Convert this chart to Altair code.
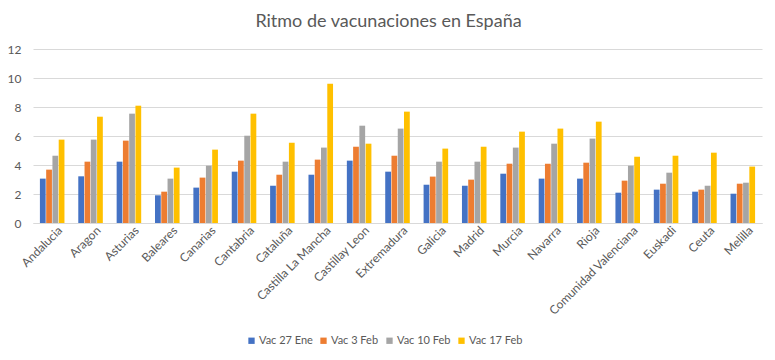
import altair as alt
import pandas as pd

regions = ["Andalucia", "Aragon", "Asturias", "Baleares", "Canarias", "Cantabria",
           "Cataluña", "Castilla La Mancha", "Castillay Leon", "Extremadura", "Galicia",
           "Madrid", "Murcia", "Navarra", "Rioja", "Comunidad Valenciana", "Euskadi",
           "Ceuta", "Melilla"]
series = ["Vac 27 Ene", "Vac 3 Feb", "Vac 10 Feb", "Vac 17 Feb"]
colors = ["#4472C4", "#ED7D31", "#A5A5A5", "#FFC000"]

vac_27_ene = [3.06, 3.22, 4.23, 1.91, 2.44, 3.54, 2.57, 3.33, 4.30, 3.54, 2.64, 2.57, 3.40, 3.06, 3.06, 2.09, 2.30, 2.16, 2.02]
vac_3_feb = [3.68, 4.23, 5.68, 2.16, 3.13, 4.30, 3.33, 4.37, 5.26, 4.64, 3.20, 2.99, 4.09, 4.09, 4.16, 2.92, 2.71, 2.30, 2.71]
vac_10_feb = [4.64, 5.75, 7.54, 3.06, 3.95, 6.02, 4.23, 5.20, 6.71, 6.51, 4.23, 4.23, 5.20, 5.47, 5.82, 3.95, 3.47, 2.57, 2.78]
vac_17_feb = [5.75, 7.33, 8.09, 3.82, 5.06, 7.54, 5.54, 9.61, 5.47, 7.68, 5.13, 5.26, 6.30, 6.51, 6.99, 4.57, 4.64, 4.85, 3.89]

rows = []
for s, vals in zip(series, [vac_27_ene, vac_3_feb, vac_10_feb, vac_17_feb]):
    for r, v in zip(regions, vals):
        rows.append({"region": r, "serie": s, "valor": v})
df = pd.DataFrame(rows)

font = "Lato"
grey_text = "#595959"

chart = alt.Chart(df).mark_bar().encode(
    x=alt.X("region:N", sort=regions, title=None,
            scale=alt.Scale(paddingInner=0.36, paddingOuter=0.18),
            axis=alt.Axis(labelAngle=-45, labelAlign="right", labelBaseline="middle",
                          ticks=False, domainColor="#D9D9D9", labelColor=grey_text,
                          labelFont=font, labelFontSize=12, labelPadding=5, labelOffset=8)),
    xOffset=alt.XOffset("serie:N", sort=series, scale=alt.Scale(paddingInner=0.08)),
    y=alt.Y("valor:Q", title=None,
            scale=alt.Scale(domain=[0, 12]),
            axis=alt.Axis(values=[0, 2, 4, 6, 8, 10, 12], ticks=False, domain=False,
                          gridColor="#D9D9D9", labelColor=grey_text, labelFont=font,
                          labelFontSize=12, labelPadding=12)),
    color=alt.Color("serie:N", sort=series,
                    scale=alt.Scale(domain=series, range=colors),
                    legend=alt.Legend(title=None, orient="none", direction="horizontal",
                                      legendX=213, legendY=286, symbolType="square",
                                      symbolSize=40, labelOffset=2, labelColor=grey_text,
                                      labelFont=font, labelFontSize=11, columnPadding=5,
                                      symbolStrokeWidth=0)),
).properties(
    width=729,
    height=174,
    autosize=alt.AutoSizeParams(type="none"),
    padding={"left": 25, "top": 41, "right": 5, "bottom": 129},
    title=alt.TitleParams("Ritmo de vacunaciones en España", font=font, fontSize=18,
                          fontWeight="normal", color=grey_text, offset=12, dx=-9),
).configure_view(stroke=None)

chart.save("out.html", embed_options={"renderer": "svg", "actions": False})
